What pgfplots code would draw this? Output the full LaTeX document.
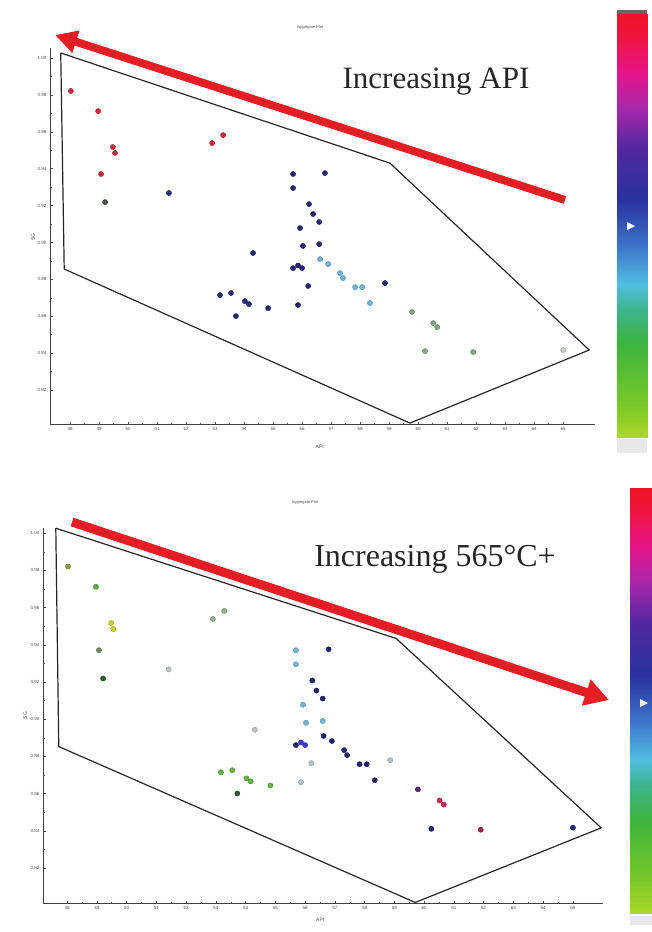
\documentclass[border=0pt]{standalone}
\usepackage{pgfplots}
\pgfplotsset{compat=1.18}
\usepackage{fontspec}
\setmainfont{Liberation Sans}
\newfontfamily\bigserif{Liberation Serif}
\usetikzlibrary{arrows.meta}

\definecolor{arrowred}{RGB}{228,30,36}
% top panel colours
\definecolor{tRed}{RGB}{205,40,60}
\definecolor{tDark}{RGB}{70,80,70}
\definecolor{tNavy}{RGB}{40,40,115}
\definecolor{tCyan}{RGB}{110,180,220}
\definecolor{tGreen}{RGB}{130,165,135}
\definecolor{tFaint}{RGB}{195,205,195}
% bottom panel colours
\definecolor{bOlive}{RGB}{130,160,60}
\definecolor{bGreen}{RGB}{90,170,60}
\definecolor{bYellow}{RGB}{200,210,50}
\definecolor{bGrayGreen}{RGB}{110,140,100}
\definecolor{bDarkGreen}{RGB}{50,90,50}
\definecolor{bFaint}{RGB}{190,195,190}
\definecolor{bLightGG}{RGB}{150,175,140}
\definecolor{bLightBlue}{RGB}{110,185,215}
\definecolor{bNavy}{RGB}{35,35,110}
\definecolor{bBlue}{RGB}{60,60,210}
\definecolor{bGrayCyan}{RGB}{170,200,200}
\definecolor{bGreen2}{RGB}{100,180,70}
\definecolor{bPurple}{RGB}{90,40,110}
\definecolor{bMagenta}{RGB}{210,40,90}
\definecolor{bRedPurple}{RGB}{150,40,80}

\pgfplotsset{
  colormap={refmap}{rgb255(0pt)=(170,215,40); rgb255(8pt)=(120,200,40); rgb255(22pt)=(60,180,60);
    rgb255(30pt)=(60,180,140); rgb255(36pt)=(80,190,225); rgb255(46pt)=(60,110,200);
    rgb255(56pt)=(40,50,160); rgb255(68pt)=(80,40,160); rgb255(78pt)=(170,40,170);
    rgb255(86pt)=(230,20,140); rgb255(95pt)=(240,20,60); rgb255(100pt)=(240,20,40)},
  panel/.style={
    scale only axis, axis lines=left,
    axis line style={-, line width=0.9pt, black!75},
    xtick={48,49,50,51,52,53,54,55,56,57,58,59,60,61,62,63,64,65},
    ytick={0.82,0.84,0.86,0.88,0.90,0.92,0.94,0.96,0.98,1.00},
    minor tick num=1, tick align=inside,
    major tick length=2.5pt, minor tick length=1.5pt,
    tick style={black!70, line width=0.5pt},
    tick label style={font=\fontsize{4.5}{5}\selectfont, black!70},
    /pgf/number format/assume math mode=true,
    yticklabel style={/pgf/number format/.cd, fixed, fixed zerofill, precision=2},
    label style={font=\fontsize{5}{6}\selectfont, black!70},
    xlabel={API}, ylabel={SG},
    clip=false,
  },
  cbar/.style={
    scale only axis, hide axis, xmin=0, xmax=1, ymin=0, ymax=1,
    colormap name=refmap, point meta min=0, point meta max=1, view={0}{90},
  },
  pts/.style={only marks, mark=*, mark size=2.6pt, mark options={fill=#1, draw=#1!75!black, line width=0.4pt}},
  poly/.style={black!85, line width=1.2pt, mark=none},
}

\begin{document}
\begin{tikzpicture}[x=1pt,y=1pt]
\useasboundingbox (0,0) rectangle (652,-932);

% ---------------- top panel ----------------
\begin{axis}[panel,
  at={(50pt,-424pt)}, anchor=south west,
  width=545pt, height=376pt,
  xmin=47.31, xmax=66.10, ymin=0.8016, ymax=1.0054,
  xlabel style={at={(axis description cs:0.495,-0.061)}, anchor=center},
  ylabel style={at={(axis description cs:-0.031,0.497)}, anchor=center},
]
\addplot[poly] coordinates {(47.68,1.0027) (59.03,0.9430) (65.90,0.8417) (59.72,0.8021) (47.80,0.8856) (47.68,1.0027)};
\addplot[pts=tRed] coordinates {(48.03,0.9821) (48.97,0.9712) (49.48,0.9517) (49.55,0.9485) (49.07,0.9371) (52.90,0.9539) (53.28,0.9582)};
\addplot[pts=tDark] coordinates {(49.21,0.9219)};
\addplot[pts=tNavy] coordinates {(51.41,0.9268) (55.69,0.9371) (56.79,0.9376) (55.69,0.9295) (56.24,0.9208) (56.38,0.9154) (56.59,0.9111) (55.93,0.9078) (56.03,0.8981) (56.59,0.8991) (54.31,0.8943) (55.69,0.8861) (56.00,0.8861) (55.86,0.8875) (56.21,0.8764) (55.86,0.8661) (53.17,0.8715) (53.55,0.8726) (54.03,0.8682) (54.17,0.8666) (54.83,0.8644) (53.72,0.8601) (58.86,0.8780)};
\addplot[pts=tCyan] coordinates {(56.62,0.8910) (56.90,0.8883) (57.31,0.8834) (57.41,0.8807) (57.83,0.8758) (58.07,0.8758) (58.34,0.8672)};
\addplot[pts=tGreen] coordinates {(59.79,0.8623) (60.52,0.8563) (60.66,0.8541) (60.24,0.8411) (61.90,0.8406)};
\addplot[pts=tFaint] coordinates {(65.00,0.8417)};
\end{axis}

% top colour bar
\begin{axis}[cbar, at={(617pt,-437pt)}, anchor=south west, width=30pt, height=423pt]
\addplot[surf, shader=interp, point meta=y, mesh/rows=2, mesh/cols=2] coordinates {(0,0) (1,0) (0,1) (1,1)};
\end{axis}

% ---------------- bottom panel ----------------
\begin{axis}[panel,
  at={(43pt,-903pt)}, anchor=south west,
  width=560pt, height=375pt,
  xmin=47.19, xmax=66.01, ymin=0.8012, ymax=1.0028,
  xlabel style={at={(axis description cs:0.495,-0.045)}, anchor=center},
  ylabel style={at={(axis description cs:-0.032,0.50)}, anchor=center},
]
\addplot[poly] coordinates {(47.62,1.0027) (59.06,0.9434) (65.95,0.8416) (59.70,0.8015) (47.72,0.8853) (47.62,1.0027)};
\addplot[pts=bOlive] coordinates {(48.03,0.9821)};
\addplot[pts=bGreen] coordinates {(48.97,0.9712)};
\addplot[pts=bYellow] coordinates {(49.48,0.9517) (49.55,0.9485)};
\addplot[pts=bGrayGreen] coordinates {(49.07,0.9371)};
\addplot[pts=bDarkGreen] coordinates {(49.21,0.9219) (53.72,0.8601)};
\addplot[pts=bFaint] coordinates {(51.41,0.9268) (54.31,0.8943)};
\addplot[pts=bLightGG] coordinates {(52.90,0.9539) (53.28,0.9582)};
\addplot[pts=bLightBlue] coordinates {(55.69,0.9371) (55.69,0.9295) (55.93,0.9078) (56.03,0.8981) (56.59,0.8991)};
\addplot[pts=bNavy] coordinates {(56.79,0.9376) (56.24,0.9208) (56.38,0.9154) (56.59,0.9111) (55.69,0.8861) (56.62,0.8910) (56.90,0.8883) (57.31,0.8834) (57.41,0.8807) (57.83,0.8758) (58.07,0.8758) (58.34,0.8672) (60.24,0.8411) (65.00,0.8417)};
\addplot[pts=bBlue] coordinates {(56.00,0.8861) (55.86,0.8875)};
\addplot[pts=bGrayCyan] coordinates {(56.21,0.8764) (55.86,0.8661) (58.86,0.8780)};
\addplot[pts=bGreen2] coordinates {(53.17,0.8715) (53.55,0.8726) (54.03,0.8682) (54.17,0.8666) (54.83,0.8644)};
\addplot[pts=bPurple] coordinates {(59.79,0.8623)};
\addplot[pts=bMagenta] coordinates {(60.52,0.8563) (60.66,0.8541)};
\addplot[pts=bRedPurple] coordinates {(61.90,0.8406)};
\end{axis}

% bottom colour bar
\begin{axis}[cbar, at={(630pt,-913pt)}, anchor=south west, width=22pt, height=425pt]
\addplot[surf, shader=interp, point meta=y, mesh/rows=2, mesh/cols=2] coordinates {(0,0) (1,0) (0,1) (1,1)};
\end{axis}

% titles
\node[font=\fontsize{4}{5}\selectfont, black!70] at (310,-27) {Aggregate Plot};
\node[font=\fontsize{4}{5}\selectfont, black!70] at (305,-502) {Aggregate Plot};

% big annotations
\draw[arrowred, line width=8pt, -{Triangle[length=22pt,width=22pt]}] (565,-200) -- (55,-35);
\draw[arrowred, line width=9pt, -{Triangle[length=24pt,width=26pt]}] (72,-522) -- (609,-700);
\node[font=\bigserif\fontsize{31}{31}\selectfont, anchor=base, black!85] at (436,-88) {Increasing API};
\node[font=\bigserif\fontsize{32}{32}\selectfont, anchor=base, black!85] at (435,-566) {Increasing 565°C+};

% colourbar extras
\fill[black!60] (617,-10) rectangle (647,-14);
\fill[gray!18] (617,-439) rectangle (647,-453);
\fill[gray!18] (630,-916) rectangle (652,-925);
\fill[white] (627,-222) -- (635,-226) -- (627,-230) -- cycle;
\fill[white] (640,-699) -- (648,-703) -- (640,-707) -- cycle;
\end{tikzpicture}
\end{document}
